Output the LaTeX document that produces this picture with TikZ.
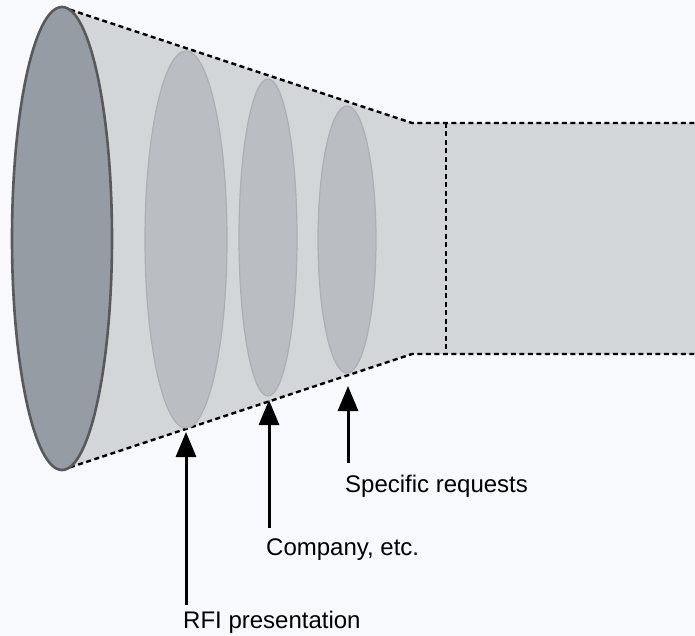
\documentclass[tikz,border=0pt]{standalone}
\usepackage{fontspec}
\setmainfont{Liberation Sans}
\usetikzlibrary{arrows.meta}
\definecolor{bg}{HTML}{F8F9FC}
\definecolor{funnel}{HTML}{D3D6D9}
\definecolor{bigfill}{HTML}{959CA4}
\definecolor{bigedge}{HTML}{58595B}
\definecolor{innerfill}{HTML}{BABDC1}
\definecolor{inneredge}{HTML}{ABAFB3}
\tikzset{
  dashline/.style={line width=2.4pt, dash pattern=on 5pt off 3.5pt, black},
  pointer/.style={line width=3pt, -{Triangle[length=25pt,width=20pt]}},
  lbl/.style={font=\fontsize{24}{28}\selectfont, anchor=west, inner sep=0pt},
  stage/.style={fill=innerfill, draw=inneredge, line width=1.2pt},
}
\begin{document}
\begin{tikzpicture}[x=1pt,y=-1pt]
\useasboundingbox (0,0) rectangle (695,636);
\fill[bg] (0,0) rectangle (695,636);
% funnel body
\fill[funnel] (62,7) -- (412,123) -- (695,123) -- (695,354) -- (412,354) -- (62,470) -- cycle;
\draw[dashline] (62,7) -- (412,123) -- (695,123);
\draw[dashline] (62,470) -- (412,354) -- (695,354);
\draw[dashline] (446,123) -- (446,354);
% big mouth
\draw[fill=bigfill, draw=bigedge, line width=2.6pt] (62,238.5) ellipse [x radius=50, y radius=231.5];
% stages
\draw[stage] (186,239.5) ellipse [x radius=41, y radius=188.5];
\draw[stage] (268,237.5) ellipse [x radius=29, y radius=158.5];
\draw[stage] (347,239.5) ellipse [x radius=29, y radius=133.5];
% labels
\node[lbl] (t3) at (345,486) {Specific requests};
\node[lbl] (t2) at (266,550) {Company, etc.};
\node[lbl] (t1) at (183,622) {RFI presentation};
\coordinate (a3) at (348,386);
\coordinate (a2) at (269,400);
\coordinate (a1) at (186,432);
\coordinate (b3) at (348,463);
\coordinate (b2) at (269,528);
\coordinate (b1) at (186,605);
\draw[pointer] (b3) -- (a3);
\draw[pointer] (b2) -- (a2);
\draw[pointer] (b1) -- (a1);
\end{tikzpicture}
\end{document}
